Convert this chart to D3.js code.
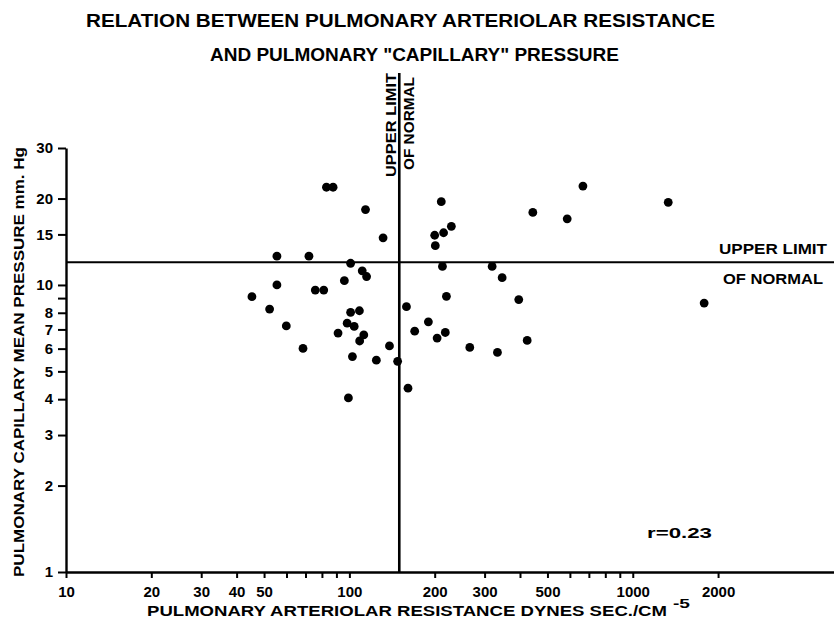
<!DOCTYPE html>
<html><head><meta charset="utf-8">
<script src="https://cdn.jsdelivr.net/npm/d3@7"></script>
<style>body{margin:0;background:#fff}</style>
</head><body>
<svg id="c" width="834" height="620"></svg>
<script>
// Pulmonary arteriolar resistance (dynes sec/cm^-5)
const resistance = [83, 87.6, 114, 131.5, 55.5, 72, 101, 111, 115, 96, 55.5, 75.8, 81.2, 45.3, 52.3, 101, 108.5, 59.9, 98.2, 104, 91.2, 112.4, 108.7, 68.6, 138.5, 102.5, 124.5, 148, 161, 99.2,
  159, 170, 190, 211, 200, 215, 229, 201, 213, 220, 204, 218, 266, 319, 333, 346, 396, 424, 444, 587, 667, 1334, 1786];
// Pulmonary capillary mean pressure (mm Hg)
const pressure = [21.9, 21.9, 18.3, 14.6, 12.6, 12.6, 11.9, 11.2, 10.7, 10.35, 10.0, 9.6, 9.6, 9.1, 8.24, 8.03, 8.13, 7.2, 7.36, 7.17, 6.8, 6.7, 6.38, 6.01, 6.13, 5.63, 5.47, 5.42, 4.37, 4.04,
  8.4, 6.9, 7.44, 19.5, 14.9, 15.2, 16.0, 13.7, 11.6, 9.13, 6.53, 6.83, 6.06, 11.6, 5.82, 10.6, 8.89, 6.41, 17.9, 17.0, 22.1, 19.4, 8.65];

const xTicks = [10, 20, 30, 40, 50, 60, 70, 80, 90, 100, 200, 300, 400, 500, 600, 700, 800, 900, 1000, 2000];
const xTickLabels = [10, 20, 30, 40, 50, 100, 200, 300, 500, 1000, 2000];
const yTicks = [1, 2, 3, 4, 5, 6, 7, 8, 9, 10, 15, 20, 30];
const yTickLabels = [1, 2, 3, 4, 5, 6, 7, 8, 10, 15, 20, 30];
const normalResistance = 150;
const normalPressure = 12;
const titleLines = ["RELATION BETWEEN PULMONARY ARTERIOLAR RESISTANCE", "AND PULMONARY \"CAPILLARY\" PRESSURE"];
const xTitle = "PULMONARY ARTERIOLAR RESISTANCE DYNES SEC./CM";
const xTitleSup = "-5";
const yTitle = "PULMONARY CAPILLARY MEAN PRESSURE mm. Hg";
const limitLabel = ["UPPER LIMIT", "OF NORMAL"];
const rLabel = "r=0.23";

const svg = d3.select("#c");
const FONT = "'Liberation Sans', Arial, sans-serif";
const x = d3.scaleLog().domain([10, 5130]).range([66, 834]);
const y = d3.scaleLog().domain([1, 30]).range([572, 148]);

// Title
svg.append("text").attr("x", 86).attr("y", 27).attr("textLength", 629).attr("lengthAdjust", "spacingAndGlyphs")
  .attr("font-family", FONT).attr("font-weight", "bold").attr("font-size", 19).text(titleLines[0]);
svg.append("text").attr("x", 210).attr("y", 61).attr("textLength", 409).attr("lengthAdjust", "spacingAndGlyphs")
  .attr("font-family", FONT).attr("font-weight", "bold").attr("font-size", 19).text(titleLines[1]);

// Axes
const xAxis = d3.axisBottom(x).tickValues(xTicks).tickSizeInner(6).tickSizeOuter(0).tickPadding(8)
  .tickFormat(d => xTickLabels.includes(d) ? String(d) : "");
const gx = svg.append("g").attr("transform", `translate(0,${y(1)})`).call(xAxis);
const yAxis = d3.axisLeft(y).tickValues(yTicks).tickSizeInner(8).tickSizeOuter(0).tickPadding(5)
  .tickFormat(d => yTickLabels.includes(d) ? String(d) : "");
const gy = svg.append("g").attr("transform", `translate(${x(10)},0)`).call(yAxis);
[gx, gy].forEach(g => {
  g.select(".domain").attr("stroke", "#000").attr("stroke-width", 2.4);
  g.selectAll(".tick line").attr("stroke", "#000").attr("stroke-width", 2);
  g.selectAll(".tick text").attr("fill", "#000").attr("font-family", FONT).attr("font-weight", "bold").attr("font-size", 15);
});

// Reference lines
svg.append("line").attr("x1", x(10)).attr("x2", x(5130)).attr("y1", y(normalPressure)).attr("y2", y(normalPressure))
  .attr("stroke", "#000").attr("stroke-width", 2.2);
svg.append("line").attr("x1", x(normalResistance)).attr("x2", x(normalResistance)).attr("y1", 73).attr("y2", y(1))
  .attr("stroke", "#000").attr("stroke-width", 2.6);

// Limit labels (vertical)
svg.append("text").attr("transform", `translate(${x(normalResistance) - 3},177) rotate(-90)`)
  .attr("textLength", 104).attr("lengthAdjust", "spacingAndGlyphs")
  .attr("font-family", FONT).attr("font-weight", "bold").attr("font-size", 14).text(limitLabel[0]);
svg.append("text").attr("transform", `translate(${x(normalResistance) + 15},170) rotate(-90)`)
  .attr("textLength", 93).attr("lengthAdjust", "spacingAndGlyphs")
  .attr("font-family", FONT).attr("font-weight", "bold").attr("font-size", 14).text(limitLabel[1]);
// Limit labels (horizontal)
svg.append("text").attr("x", 719).attr("y", y(normalPressure) - 8).attr("textLength", 108).attr("lengthAdjust", "spacingAndGlyphs")
  .attr("font-family", FONT).attr("font-weight", "bold").attr("font-size", 15).text(limitLabel[0]);
svg.append("text").attr("x", 723).attr("y", y(normalPressure) + 22).attr("textLength", 100).attr("lengthAdjust", "spacingAndGlyphs")
  .attr("font-family", FONT).attr("font-weight", "bold").attr("font-size", 15).text(limitLabel[1]);

// Points
svg.append("g").selectAll("circle").data(resistance.map((r, i) => [r, pressure[i]])).join("circle")
  .attr("cx", d => x(d[0])).attr("cy", d => y(d[1])).attr("r", 4.4).attr("fill", "#000");

// r label
svg.append("text").attr("x", 647).attr("y", 538).attr("textLength", 65).attr("lengthAdjust", "spacingAndGlyphs")
  .attr("font-family", FONT).attr("font-weight", "bold").attr("font-size", 14).text(rLabel);

// Axis titles
svg.append("text").attr("x", 147).attr("y", 616).attr("textLength", 520).attr("lengthAdjust", "spacingAndGlyphs")
  .attr("font-family", FONT).attr("font-weight", "bold").attr("font-size", 14).text(xTitle);
svg.append("text").attr("x", 673).attr("y", 608).attr("textLength", 17).attr("lengthAdjust", "spacingAndGlyphs")
  .attr("font-family", FONT).attr("font-weight", "bold").attr("font-size", 12).text(xTitleSup);
svg.append("text").attr("transform", "translate(24,577) rotate(-90)").attr("textLength", 430).attr("lengthAdjust", "spacingAndGlyphs")
  .attr("font-family", FONT).attr("font-weight", "bold").attr("font-size", 15).text(yTitle);
</script>
</body></html>
